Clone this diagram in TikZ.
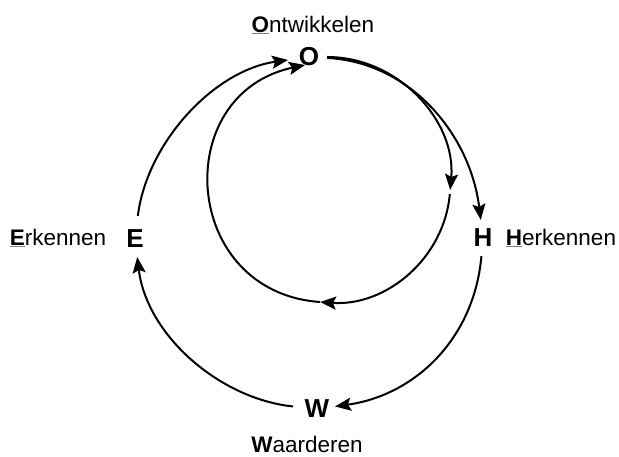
\documentclass[tikz,border=0pt]{standalone}
\usepackage{fontspec}
\setmainfont{Liberation Sans}
\usepackage{tikz}
\usetikzlibrary{arrows.meta}
\usepackage{xcolor}
\newcommand{\firstul}[1]{\rlap{\textcolor{black!50}{\underline{\phantom{\textbf{#1}}}}}\textbf{#1}}
\tikzset{
  letter/.style={circle,minimum size=36pt,inner sep=0pt,font=\fontsize{26}{30}\selectfont\bfseries},
  every edge/.style={draw,->,>={Stealth[length=16pt,width=13pt,inset=3pt]},line width=2pt},
}

\begin{document}
\begin{tikzpicture}[
  x=1pt,y=1pt,
  lab/.style={font=\fontsize{22.5}{27}\selectfont,inner sep=0pt}
]
\useasboundingbox (0,0) rectangle (619,457);

\node[letter] (O) at (309,400) {O};
\node[letter] (H) at (483,219) {H};
\node[letter] (W) at (317,48) {W};
\node[letter] (E) at (135,218) {E};

\node[lab] (lO) at (313,432) {\firstul{O}ntwikkelen};
\node[lab] (lH) at (561,219) {\firstul{H}erkennen};
\node[lab] (lW) at (307,13) {\textbf{W}aarderen};
\node[lab] (lE) at (58,219) {\firstul{E}rkennen};

% inner loop
\coordinate (ir) at (450,265);
\coordinate (ib) at (320,155);
\coordinate (Oin) at (305,392);

\path
(E) edge[out=83,in=188,looseness=0.9,shorten <=5pt,shorten >=3pt] (O)
(O) edge[out=-3,in=97,looseness=0.97] (H)
(H) edge[out=-95,in=8] (W)
(W) edge[out=174,in=-83,looseness=0.92,shorten <=6pt] (E)

(O) edge[out=0,in=85,shorten >=2pt] (ir)
(ir) edge[out=-95,in=-4,shorten <=2pt] (ib)
(ib) edge[out=176,in=192,looseness=1.5] (Oin);

\end{tikzpicture}
\end{document}
